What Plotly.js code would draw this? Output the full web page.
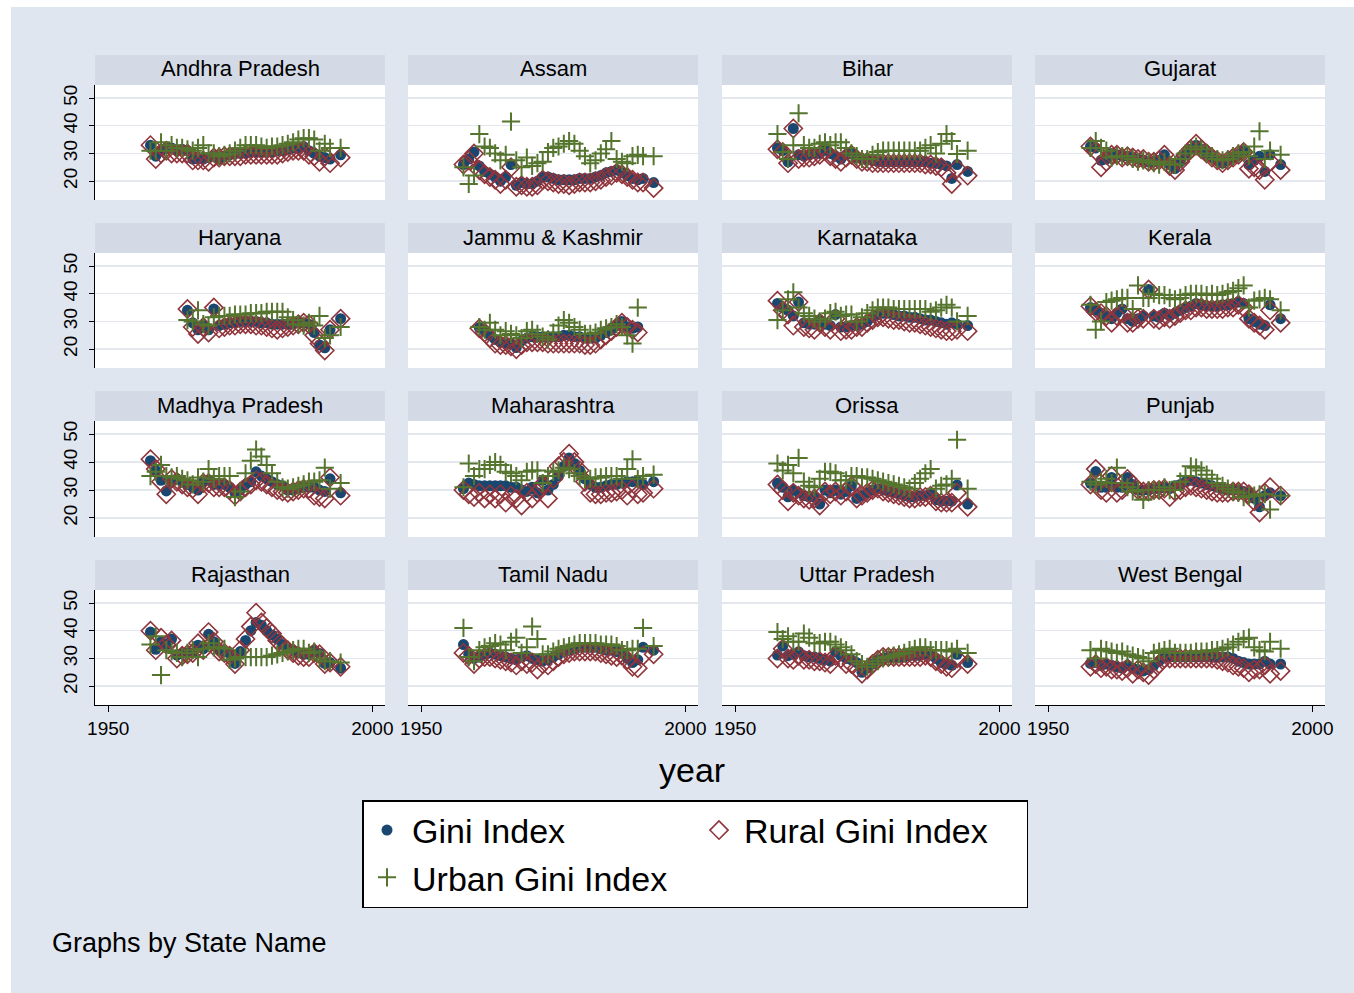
<!DOCTYPE html>
<html><head><meta charset="utf-8">
<script src="https://cdn.plot.ly/plotly-3.0.1.min.js"></script>
<style>html,body{margin:0;padding:0;background:#fff}</style>
</head><body><div id="chart" style="width:1354px;height:993px"></div>
<script>
const years = [1958,1959,1960,1961,1962,1963,1964,1965,1966,1967,1968,1969,1970,1971,1972,1973,1974,1975,1976,1977,1978,1979,1980,1981,1982,1983,1984,1985,1986,1987,1988,1989,1990,1991,1992,1993,1994];
const stateNames = ["Andhra Pradesh","Assam","Bihar","Gujarat","Haryana","Jammu & Kashmir","Karnataka","Kerala","Madhya Pradesh","Maharashtra","Orissa","Punjab","Rajasthan","Tamil Nadu","Uttar Pradesh","West Bengal"];
const yTickVals = [20,30,40,50];
const xTickVals = [1950,2000];
const seriesNames = ["Gini Index","Rural Gini Index","Urban Gini Index"];

const giniAndhra = [33,29,31,32,32,31,31.5,31,28,28, 28,28.5,29,28,29,29.5,30,30,30,30.5, 30.5,30.5,30.5,30.5,31,31,31.5,32,32,32.5, 31,30,29,28.5,28,null,29.5];
const ruralAndhra = [33,28,30,31,30,30,30,30,27.5,27.5, 27.5,27,28.5,28.5,29,29,29,29,29.5,29.5, 29.5,29.5,29.5,29.5,29.5,30,30.5,31,31,31, 29.5,29,27,29,26.5,null,28.5];
const urbanAndhra = [31,31,34,31,33,32,32,31.5,31,32, 33,30,30,29,29.5,30,31,32,33,33, 33,32.5,32,32.5,32.5,33,33.5,34,35,35.5, 35.5,35,31,33.5,32,null,32];

const giniAssam = [26,28,30.5,25.5,23.5,22.5,21.5,20,21.5,26, 18.5,19.5,19,19,20,21.5,21.5,21,20.5,20.5, 20.5,20.5,21,21,21,21.5,22,23,23.5,24, 23,22,21,20.5,21,null,19.5];
const ruralAssam = [26,27.5,30,24,22.5,21.5,20.5,19,20.5,25, 18,18.5,18,18,18.5,20.5,20,19.5,19,19, 18.5,19,19.5,19.5,19.5,20,20.5,21.5,22,23, 22.5,21.5,20.5,19.5,19.5,null,17.5];
const urbanAssam = [25,19,22,37,32.5,32,30,27.5,29.5,41.5, 27.5,25,28.5,25.5,26.5,27,30.5,32,32.5,33.5, 34.5,33.5,31,29,26.5,27.5,30,31.5,34.5,28, 27,26.5,29,29.5,29,null,29];

const giniBihar = [32,31,27,39,29.5,29,29.5,30,30,31.5, 30,29,28,29.5,30,28.5,28,28,27.5,27, 27,27,27,27,27,27,27,27,27,26.5, 26.5,26,25.5,21,26,null,23.5];
const ruralBihar = [31.5,30.5,26.5,39,28,28.5,28.5,29,29.5,31, 29,28,27,28.5,29.5,28,27,27,26.5,26.5, 26.5,26.5,26.5,26.5,26.5,26.5,26.5,26.5,26,26, 25.5,25,23,19,24.5,null,22];
const urbanBihar = [37,30.5,28,33,44.5,33,32,32,33.5,34, 33,34,34,32,30,29,28,28,29.5,30.5, 31,31,31,31,31,31,31,31,32,33, 30,33.5,37,34.5,29.8,null,31];

const giniGujarat = [32.5,32,27.5,28,30,29.5,29,29,28.5,28, 27.5,27,27,27.5,29.5,26,24.5,27,29.5,31.5, 33,31.5,30,28.5,27.5,26.5,27.5,28.5,29.5,31, 26,27.5,29,23.5,29.5,null,26];
const ruralGujarat = [32.5,31,25,27,29.5,29.5,28.5,29,28.5,28, 28,27,27,27.5,29.5,25.5,24,27,29.5,31.5, 33.5,31.5,30,28.5,27.5,26.5,27.5,28.5,29.5,30.5, 24.5,25,24,20.5,27,null,24];
const urbanGujarat = [32,34.5,32,31,28.5,29,29,29,28,27, 27.5,27,26.5,26,27,26,26,28,30,31.5, 32.5,31.5,30,29,28,27.5,28,29,30,30.5, 29,32.5,38,28,31,null,29.5];

const giniHaryana = [null,null,null,null,null,null,null,34,29.5,27, 28.5,27,34.5,28.5,29,29.5,29.5,30,30,30, 30,29.5,29.5,29,29,29,29,29,29.5,29.5, 29,26,21.5,20.5,27,null,31];
const ruralHaryana = [null,null,null,null,null,null,null,34.5,28,25.5, 28,26,35,27.5,28,28.5,28.5,29,29,29, 28.5,28.5,28,27.5,27,27.5,28,28.5,29,29.5, 29,25,22,19.5,27,null,31];
const urbanHaryana = [null,null,null,null,null,null,null,30.5,30,34, 29,28.5,31.5,32,32,32,32.5,32.5,32.5,33, 33,33,33.5,33.5,33.5,33.5,31.5,30.5,29,28.5, 29.5,28.5,32,24,25,null,28];

const giniJK = [null,null,null,27.8,26.5,25,23.5,22.5,22,22, 20.6,23,24,24.5,24.5,24.5,24.5,24.5,24.5,25, 25,24.5,24.5,24,24,24,25,26,27,28.5, 30,28,27.5,28,null,null,null];
const ruralJK = [null,null,null,27.5,26,24,22,21.5,21.5,21, 20,21.5,22.5,22.5,22.5,22.5,22,22,22,22, 22,22,22,21.5,21.5,22,23.5,25,26.5,28, 29.5,28,27,26,null,null,null];
const urbanJK = [null,null,null,28,27,29.5,27,25,26.5,25.5, 25,24,26.5,27,25.5,24.5,23.5,26,28.5,30.5, 29.5,28,27,25.5,25.5,26,27,27.5,28,29, 28,25,22,35,null,null,null];

const giniKarnataka = [36.5,35,34,32,37,29.5,29,29,30.5,29, 28.5,32.5,28,28,28.5,28.5,29,30,31.5,32.5, 33,33,32.5,32,32,31.5,31.5,31,30.5,30.5, 30,29.5,29,29.5,29,null,28.5];
const ruralKarnataka = [37.5,34,32.5,28.5,37,28,27.5,27,29.5,28, 27,31,26.5,27,27,28,28,29.5,30.5,31.5, 31.5,31,30.5,30.5,30,29.5,29.5,29,28.5,28, 27.5,27,26.5,26.5,27,null,26.5];
const urbanKarnataka = [30.5,34,38,40.5,35,33,32,31,30,31, 33,33.5,32,32.5,32.5,30,31.5,33,34,35, 35,35,34.5,34.5,34.5,34.5,34.5,34.5,34.5,33.5, 34,35,36,35,30,null,32];

const giniKerala = [35,34,33,32,31,33,34.5,31,30,31, 32,41.5,32,31.5,33,32,33,34,35,35.5, 36.5,36,35.5,35.5,35.5,36,36,36.5,37,36.5, 31,30,29,28.5,36,null,31];
const ruralKerala = [35.5,33.5,33,32,29.5,32,33,29.5,29.5,31, 31,41.5,31,30.5,31.5,31,32,33,34,34, 35,35,34.5,34.5,34.5,34.5,35,35,36,35, 31,29.5,28.5,27,34,null,29.5];
const urbanKerala = [36,27,30,37,37.5,38,38.5,38.5,34.5,43, 38.5,38.5,40,39.5,39.5,38.5,38,38.5,39.5,40, 40,40,39.5,40,39.5,40,40.5,41,42,43, 35,37.5,38,38.5,38,null,34];

const giniMadhya = [40.5,37,33.5,29.7,33,34,33,32,31,30, 33,33.5,32,32,32,31,29,30,32,33, 36.5,35,34,33,32,31.5,30,30,30.5,31, 31,31,30,29.5,34,null,29];
const ruralMadhya = [41,37.5,33,28.5,34,33,32,31,30.5,28.5, 32.5,32.5,31,31,31,30,28,29.5,31,32, 33.5,33,32,31,30,29.5,29,29.5,30,30.5, 30.5,28,27.5,27,34.5,null,28];
const urbanMadhya = [35,36.5,39,35,34.5,35,34,33.5,32,34.5, 33,37.5,34,35,35,35,27.5,29.5,36,40.5, 44.5,42,39,36,33,31,30.5,31,31.5,32, 33,33,33.5,38,30.5,null,32.5];

const giniMaharashtra = [30.5,32.5,32,31.5,31.5,31.5,31.5,31.5,31.5,31, 31,30,29.5,31,29,33.5,30,32,35,38.5, 41.5,39.5,37,34,32,31,31,31.5,32,32, 32.5,33,33,33,32,null,33];
const ruralMaharashtra = [30,28.5,27.5,29,27,28.5,27,28.5,25.5,28, 27,24.5,29,27,29,32,27,34,38.5,40, 43,40,37,33,29,28.5,28.5,29,29,29.5, 30,28,30.5,28.5,29,null,30.5];
const urbanMaharashtra = [31,39.5,35,37.5,37.5,39,40,39,36.5,36, 35,33.5,36.5,37,37,32.5,35,36.5,37,38, 37.5,36,35,34,34,34.5,34.5,35,35,35, 34,37.5,41,34,35,null,35.5];

const giniOrissa = [32.4,31,27.6,30,29,28,27.5,27.5,25,30, 29,30,28.5,29.5,31.5,27,28,29,30,30.5, 30,29.5,29,28.5,28,27.5,27.5,28,28,28.5, 26.5,26,26,26,31.8,null,25];
const ruralOrissa = [32,30,26,29,28,27,26.5,27,24.5,29.5, 28.5,29.5,28,29.5,31.5,27,28,29,30,30.5, 29.5,29,28.5,28,27.5,27,27,27.5,27.5,28, 26,25.5,25.5,25.5,29,null,24];
const urbanOrissa = [39.5,37,39,36,41.5,33,31.5,31,34,36.5, 36.5,36,33.5,33.5,35,35,34.5,34.5,34,33.5, 33,32.5,32,31.5,31,30.5,32.5,34,36,37.5, 30.5,31.5,32,34,48,null,30.5];

const giniPunjab = [32.4,36.6,31,31,34.5,31,31,34.5,32,30, 30,30,30.5,30.5,31,30.5,31.5,32,33,33.5, 33,32.5,32,31.5,31,30.5,30,30,30,29.5, 29,27,24,28,29,null,28];
const ruralPunjab = [32,37.5,30,29,35,29,30,34,32,30, 29.5,29.5,30,30,30.5,27.5,29.5,30,31,31.5, 31,30.5,30,29.5,29,29,29,29.5,29.5,29.5, 28.5,26,22,29,31,null,28];
const urbanPunjab = [33,32,33,34,32.5,38,32.5,31,29.5,30, 26.5,30,30,30,31,30,30,33,35,38.5, 38,37,35.5,34,32.5,31.5,30.5,29.5,29,27.5, 28,28,28.5,28.5,23,null,28];

const giniRajasthan = [39.5,33.3,36,35,37,31.2,31.8,32,32,34.8, 33.5,38.7,36,33,32.4,31.8,28.2,32.5,36.5,40, 43,42,40,38.5,37,35,33.5,33,32,31.5, 31.5,33,31.8,28.2,28.5,null,26.5];
const ruralRajasthan = [40,33,37.5,35,36.5,30,31,31.5,32,35.5, 33,39.5,36,32.5,32,31,28,33,37,41.5, 46.5,43,41,39,36.5,34.5,33,32,31,30.5, 30.5,32,31.5,28,28.5,null,27];
const urbanRajasthan = [35,38,24,33,32.5,32,30.5,32,33,30.5, 33.5,35.5,34,34,33.5,29.5,30,30.5,30.5,30.5, 30.5,30.5,30.5,31,31.5,32,32.5,33,33.5,33.5, 32,32.5,30,29,29,null,28.5];

const giniTamil = [35,31.5,30,30.5,31.5,32,31.5,31,30.5,30, 29.5,30.5,31,30,29.5,29,29.5,30.5,31.5,32.5, 33,33.5,34,34,34,34,33.5,33,33,32.5, 32,30,28.5,29.5,34,null,33];
const ruralTamil = [32,31,28,30,30.5,30.5,30,29.5,29,28.5, 27.5,29,28,28.5,26,28,27.5,29,30.5,31.5, 32,32.5,32.5,32.5,32.5,32.5,32,31.5,31,30.5, 31,29.5,27,26.5,31,null,31.5];
const urbanTamil = [41,30.5,29,33,34,34.5,35.5,35,33,36, 37.5,32,34,41.5,37,31.5,31.5,32.5,33.5,34, 34.5,35,35.5,35.5,35.5,35.5,35,35,35,34.5, 33,33,33.5,33.5,41,null,34.5];

const giniUttar = [31.2,34.5,31,31.5,32.4,31,30.5,30.5,30,29.5, 29,32.4,31,30,29.5,28.5,25,26.5,28,29.5, 30,30.5,30.5,30.5,30.5,31,31,31,31.5,31.5, 30,28.5,28,27.5,31.5,null,28.5];
const ruralUttar = [30,33.5,30,29.5,31,29.5,29.5,29,29,28.5, 28,31,30,28,28,26.5,24.5,26,28,29.5, 30.5,30.5,30.5,30.5,30.5,30.5,30.5,30.5,31,30.5, 29,28,27,26.5,30,null,28];
const urbanUttar = [39.5,37,38,36,36,39,37.5,35.5,35.5,36, 36,35,34,33,31.5,29,28,27,28,29, 30,30.5,31,31.5,32,33,33.5,34,34,33, 33,33,33,32.5,33.5,null,32];

const giniBengal = [28.2,28.5,27.5,28,27.5,27,26.5,27.5,26.5,26, 25.5,26,27.5,29,30.5,30.5,30.5,30.5,30.5,30.5, 30.5,30.5,30.5,30.5,30.5,30.5,30.5,30,29,28.5, 28,28,28,29,28,null,28];
const ruralBengal = [27,28,26.5,27,26,26,25.5,26.5,24.5,26, 25,24,26,28,30,30,30,30,30,30, 30,30,30,30,29.5,29,28.5,27.5,27,26.5, 25,26,26,27.5,24.5,null,25.5];
const urbanBengal = [33,30,33.5,33,32.5,32,32.5,31.5,31,30.5, 30,29,32,32.5,33,33.5,32,32,32,32, 32.5,32.5,32.5,33,33,33.5,34,35,36,37, 37.5,34,33,32.5,36,null,33.5];

const giniByState = [giniAndhra,giniAssam,giniBihar,giniGujarat,giniHaryana,giniJK,giniKarnataka,giniKerala,giniMadhya,giniMaharashtra,giniOrissa,giniPunjab,giniRajasthan,giniTamil,giniUttar,giniBengal];
const ruralByState = [ruralAndhra,ruralAssam,ruralBihar,ruralGujarat,ruralHaryana,ruralJK,ruralKarnataka,ruralKerala,ruralMadhya,ruralMaharashtra,ruralOrissa,ruralPunjab,ruralRajasthan,ruralTamil,ruralUttar,ruralBengal];
const urbanByState = [urbanAndhra,urbanAssam,urbanBihar,urbanGujarat,urbanHaryana,urbanJK,urbanKarnataka,urbanKerala,urbanMadhya,urbanMaharashtra,urbanOrissa,urbanPunjab,urbanRajasthan,urbanTamil,urbanUttar,urbanBengal];

const W = 1354, H = 993;
const FONT = "Liberation Sans, Arial, Helvetica, sans-serif";
const colPx = [[95,385],[408,698],[722,1012],[1035,1325]];
const rowPx = [[85,200],[253,368],[421,537],[590,705]];
const STRIP_H = 30;
const C_GINI = '#1a476f', C_RURAL = '#90353b', C_URBAN = '#55752f';

const traces = [];
const layout = {
  width: W, height: H,
  margin: {l:0, r:0, t:0, b:0},
  paper_bgcolor: '#e0e6f0',
  plot_bgcolor: '#ffffff',
  font: {family: FONT, color: '#000'},
  showlegend: true,
  legend: {
    orientation: 'h', traceorder: 'grouped',
    x: 362/W, y: 1 - 800/H, xanchor: 'left', yanchor: 'top',
    bgcolor: '#ffffff', bordercolor: '#000000', borderwidth: 1.5,
    font: {family: FONT, size: 34, color: '#000'},
    itemwidth: 40, entrywidth: 277, itemclick: false, itemdoubleclick: false
  },
  shapes: [
    {type:'rect', xref:'paper', yref:'paper', x0:0, x1:11/W, y0:0, y1:1, fillcolor:'#ffffff', line:{width:0}, layer:'below'},
    {type:'rect', xref:'paper', yref:'paper', x0:0, x1:1, y0:1-7/H, y1:1, fillcolor:'#ffffff', line:{width:0}, layer:'below'}
  ],
  annotations: [
    {text:'year', xref:'paper', yref:'paper', x:692/W, y:1-770/H, showarrow:false, xanchor:'center', yanchor:'middle', font:{size:34, family:FONT}},
    {text:'Graphs by State Name', xref:'paper', yref:'paper', x:50/W, y:1-943/H, showarrow:false, xanchor:'left', yanchor:'middle', font:{size:27, family:FONT}}
  ]
};

stateNames.forEach((name, i) => {
  const r = Math.floor(i/4), c = i % 4, n = i + 1;
  const xa = n === 1 ? 'x' : 'x' + n, ya = n === 1 ? 'y' : 'y' + n;
  const xk = n === 1 ? 'xaxis' : 'xaxis' + n, yk = n === 1 ? 'yaxis' : 'yaxis' + n;
  const bottom = r === 3, left = c === 0;
  layout[xk] = {
    domain: [colPx[c][0]/W, colPx[c][1]/W], anchor: ya,
    range: [1947.5, 2002.4], tickmode: 'array', tickvals: xTickVals,
    showticklabels: bottom, ticks: bottom ? 'outside' : '', ticklen: 6, tickwidth: 1, tickcolor: '#000',
    showline: bottom, linecolor: '#000', linewidth: 1,
    showgrid: false, zeroline: false, fixedrange: true,
    tickfont: {size: 19, family: FONT, color: '#000'}
  };
  layout[yk] = {
    domain: [1 - rowPx[r][1]/H, 1 - rowPx[r][0]/H], anchor: xa,
    range: [13.2, 54.7], tickmode: 'array', tickvals: yTickVals,
    showticklabels: left, ticks: left ? 'outside' : '', ticklen: 5, tickwidth: 1, tickcolor: '#000',
    tickangle: -90, ticklabelstandoff: 4,
    showline: left, linecolor: '#000', linewidth: 1,
    showgrid: true, gridcolor: '#e4e8ee', gridwidth: 1.5, zeroline: false, fixedrange: true,
    tickfont: {size: 19, family: FONT, color: '#000'}
  };
  layout.shapes.push({type:'rect', xref:'paper', yref:'paper',
    x0: colPx[c][0]/W, x1: colPx[c][1]/W,
    y0: 1 - rowPx[r][0]/H, y1: 1 - (rowPx[r][0] - STRIP_H)/H,
    fillcolor: '#d3dae5', line: {width: 0}, layer: 'below'});
  layout.annotations.push({text: name, xref:'paper', yref:'paper',
    x: (colPx[c][0] + colPx[c][1]) / 2 / W, y: 1 - (rowPx[r][0] - STRIP_H/2 - 1)/H,
    showarrow: false, xanchor: 'center', yanchor: 'middle', font: {size: 22, family: FONT, color:'#000'}});

  traces.push({type:'scatter', mode:'markers', x: years, y: giniByState[i], xaxis: xa, yaxis: ya,
    name: seriesNames[0], legendgroup: 'g1', showlegend: i === 0, cliponaxis: false,
    marker: {symbol: 'circle', size: 11, color: C_GINI, line: {width: 0}}});
  traces.push({type:'scatter', mode:'markers', x: years, y: ruralByState[i], xaxis: xa, yaxis: ya,
    name: seriesNames[1], legendgroup: 'g2', showlegend: i === 0, cliponaxis: false,
    marker: {symbol: 'diamond-open', size: 14, color: C_RURAL, line: {width: 1.6, color: C_RURAL}}});
  traces.push({type:'scatter', mode:'markers', x: years, y: urbanByState[i], xaxis: xa, yaxis: ya,
    name: seriesNames[2], legendgroup: 'g1', showlegend: i === 0, cliponaxis: false,
    marker: {symbol: 'cross-thin', size: 13, color: C_URBAN, line: {width: 2, color: C_URBAN}}});
});

Plotly.newPlot('chart', traces, layout, {staticPlot: true, displayModeBar: false});
</script>
</body></html>
